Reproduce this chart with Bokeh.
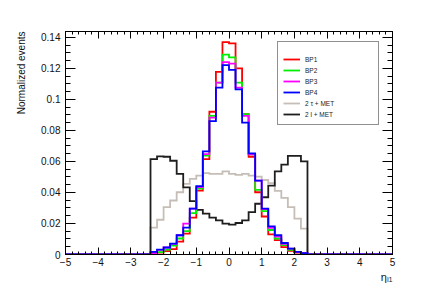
import numpy as np
from bokeh.plotting import figure
from bokeh.models import Range1d, LinearAxis, FixedTicker, Legend, LegendItem, Title
from bokeh.embed import file_html
from bokeh.resources import INLINE

# ---------------- data ----------------
x_lo, x_hi = -5.0, 5.0
bin_width = 0.2
data_lo = -2.4          # first non-empty bin edge
y_top = 0.1437

bp1 = [0.0008, 0.0012, 0.0022, 0.0035, 0.0083, 0.0135, 0.0237, 0.0412, 0.0615, 0.0920, 0.1177, 0.1369,
       0.1360, 0.1199, 0.0904, 0.0630, 0.0401, 0.0245, 0.0130, 0.0092, 0.0048, 0.0023, 0.0012, 0.0008]
bp2 = [0.0006, 0.0015, 0.0032, 0.0058, 0.0103, 0.0151, 0.0267, 0.0425, 0.0637, 0.0893, 0.1107, 0.1288,
       0.1270, 0.1107, 0.0904, 0.0645, 0.0417, 0.0280, 0.0158, 0.0103, 0.0060, 0.0030, 0.0015, 0.0006]
bp3 = [0.0008, 0.0030, 0.0045, 0.0068, 0.0124, 0.0199, 0.0295, 0.0435, 0.0647, 0.0882, 0.1107, 0.1240,
       0.1230, 0.1075, 0.0893, 0.0645, 0.0476, 0.0292, 0.0172, 0.0115, 0.0068, 0.0038, 0.0016, 0.0008]
bp4 = [0.0017, 0.0032, 0.0045, 0.0070, 0.0124, 0.0173, 0.0295, 0.0440, 0.0664, 0.0860, 0.1075, 0.1220,
       0.1190, 0.1064, 0.0850, 0.0651, 0.0476, 0.0295, 0.0181, 0.0124, 0.0074, 0.0038, 0.0017, 0.0008]
tau_met = [0.0173, 0.0224, 0.0305, 0.0348, 0.0401, 0.0455, 0.0487, 0.0508, 0.0525, 0.0519, 0.0519, 0.0536,
           0.0520, 0.0513, 0.0520, 0.0508, 0.0502, 0.0480, 0.0460, 0.0410, 0.0365, 0.0305, 0.0231, 0.0167]
lep_met = [0.0615, 0.0632, 0.0630, 0.0604, 0.0520, 0.0433, 0.0344, 0.0288, 0.0263, 0.0237, 0.0220, 0.0199,
           0.0192, 0.0203, 0.0220, 0.0273, 0.0327, 0.0369, 0.0444, 0.0536, 0.0579, 0.0636, 0.0636, 0.0600]

series_names = ["BP1", "BP2", "BP3", "BP4", "2 \u03c4 + MET", "2 l + MET"]
series_colors = ["#ff0000", "#00ee00", "#ff00ff", "#0000ff", "#c6beb6", "#1e1e1e"]

x_ticks = [-5, -4, -3, -2, -1, 0, 1, 2, 3, 4, 5]
y_ticks = [0, 0.02, 0.04, 0.06, 0.08, 0.10, 0.12, 0.14]
y_tick_labels = ["0", "0.02", "0.04", "0.06", "0.08", "0.1", "0.12", "0.14"]
x_title = "\u03b7\u2097\u2081"
y_title = "Normalized events"

# ---------------- figure ----------------
FONT = "Liberation Sans"
W, H = 428, 292
p = figure(width=W, height=H, output_backend="svg", toolbar_location=None,
           x_range=Range1d(x_lo, x_hi), y_range=Range1d(0, y_top),
           x_axis_location=None, y_axis_location=None,
           min_border_left=65, min_border_right=36, min_border_top=31, min_border_bottom=38)
p.xgrid.visible = False
p.ygrid.visible = False
p.outline_line_color = "black"
p.background_fill_color = "white"
p.border_fill_color = "white"

x_minor = list(np.round(np.arange(x_lo, x_hi + 1e-9, 0.2), 6))
y_minor = list(np.round(np.arange(0, y_top, 0.005), 6))

def make_axis(kind, labels):
    ax = LinearAxis()
    if kind == "x":
        ax.ticker = FixedTicker(ticks=x_ticks, minor_ticks=x_minor)
        ax.major_tick_in, ax.minor_tick_in = 7, 3
    else:
        ax.ticker = FixedTicker(ticks=y_ticks, minor_ticks=y_minor)
        ax.major_tick_in, ax.minor_tick_in = 10, 5
    ax.major_tick_out = 0
    ax.minor_tick_out = 0
    ax.axis_line_color = "black"
    ax.major_tick_line_color = "black"
    ax.minor_tick_line_color = "black"
    ax.major_label_text_font = FONT
    ax.major_label_text_color = "#111111"
    if labels:
        ax.major_label_text_font_size = "10px"
        if kind == "x":
            ax.major_label_standoff = 3
        else:
            ax.major_label_standoff = 5
            ax.major_label_overrides = {t: l for t, l in zip(y_ticks, y_tick_labels)}
    else:
        ax.major_label_text_font_size = "0px"
        ax.major_label_standoff = 0
        ticks = x_ticks if kind == "x" else y_ticks
        ax.major_label_overrides = {t: "" for t in ticks}
    return ax

p.add_layout(make_axis("x", True), "below")
p.add_layout(make_axis("x", False), "above")
p.add_layout(make_axis("y", True), "left")
p.add_layout(make_axis("y", False), "right")

p.add_layout(Title(text=y_title, align="right", text_font=FONT, text_font_size="10px",
                   text_font_style="normal", text_color="#111111", standoff=24), "left")
p.add_layout(Title(text=x_title, align="right", text_font=FONT, text_font_size="11px",
                   text_font_style="normal", text_color="#111111", standoff=0), "below")

# ---------------- histograms ----------------
edges = np.round(np.arange(x_lo, x_hi + 1e-9, bin_width), 6)
n_bins = len(edges) - 1
start = int(np.argmin(np.abs(edges - data_lo)))

def full_hist(vals):
    h = np.zeros(n_bins)
    h[start:start + len(vals)] = vals
    return np.append(h, 0.0)

all_series = [bp1, bp2, bp3, bp4, tau_met, lep_met]
renderers = {}
draw_order = [4, 5, 0, 1, 2, 3]
for i in draw_order:
    r = p.step(edges, full_hist(all_series[i]), mode="after",
               line_color=series_colors[i], line_width=1.8, line_join="miter")
    renderers[i] = r

legend = Legend(items=[LegendItem(label=series_names[i], renderers=[renderers[i]]) for i in range(6)],
                location=(212, 129), orientation="vertical",
                border_line_color="#222222", border_line_width=1,
                background_fill_color="white", background_fill_alpha=1.0,
                label_text_font=FONT, label_text_font_size="6.5px", label_text_color="#222222",
                glyph_width=17, glyph_height=10, label_height=10, label_width=68,
                label_standoff=5, spacing=1, padding=5, margin=0,
                title=" ", title_text_font_size="6px", title_standoff=1)
p.add_layout(legend, "center")

open("out.html", "w").write(file_html(p, INLINE))
